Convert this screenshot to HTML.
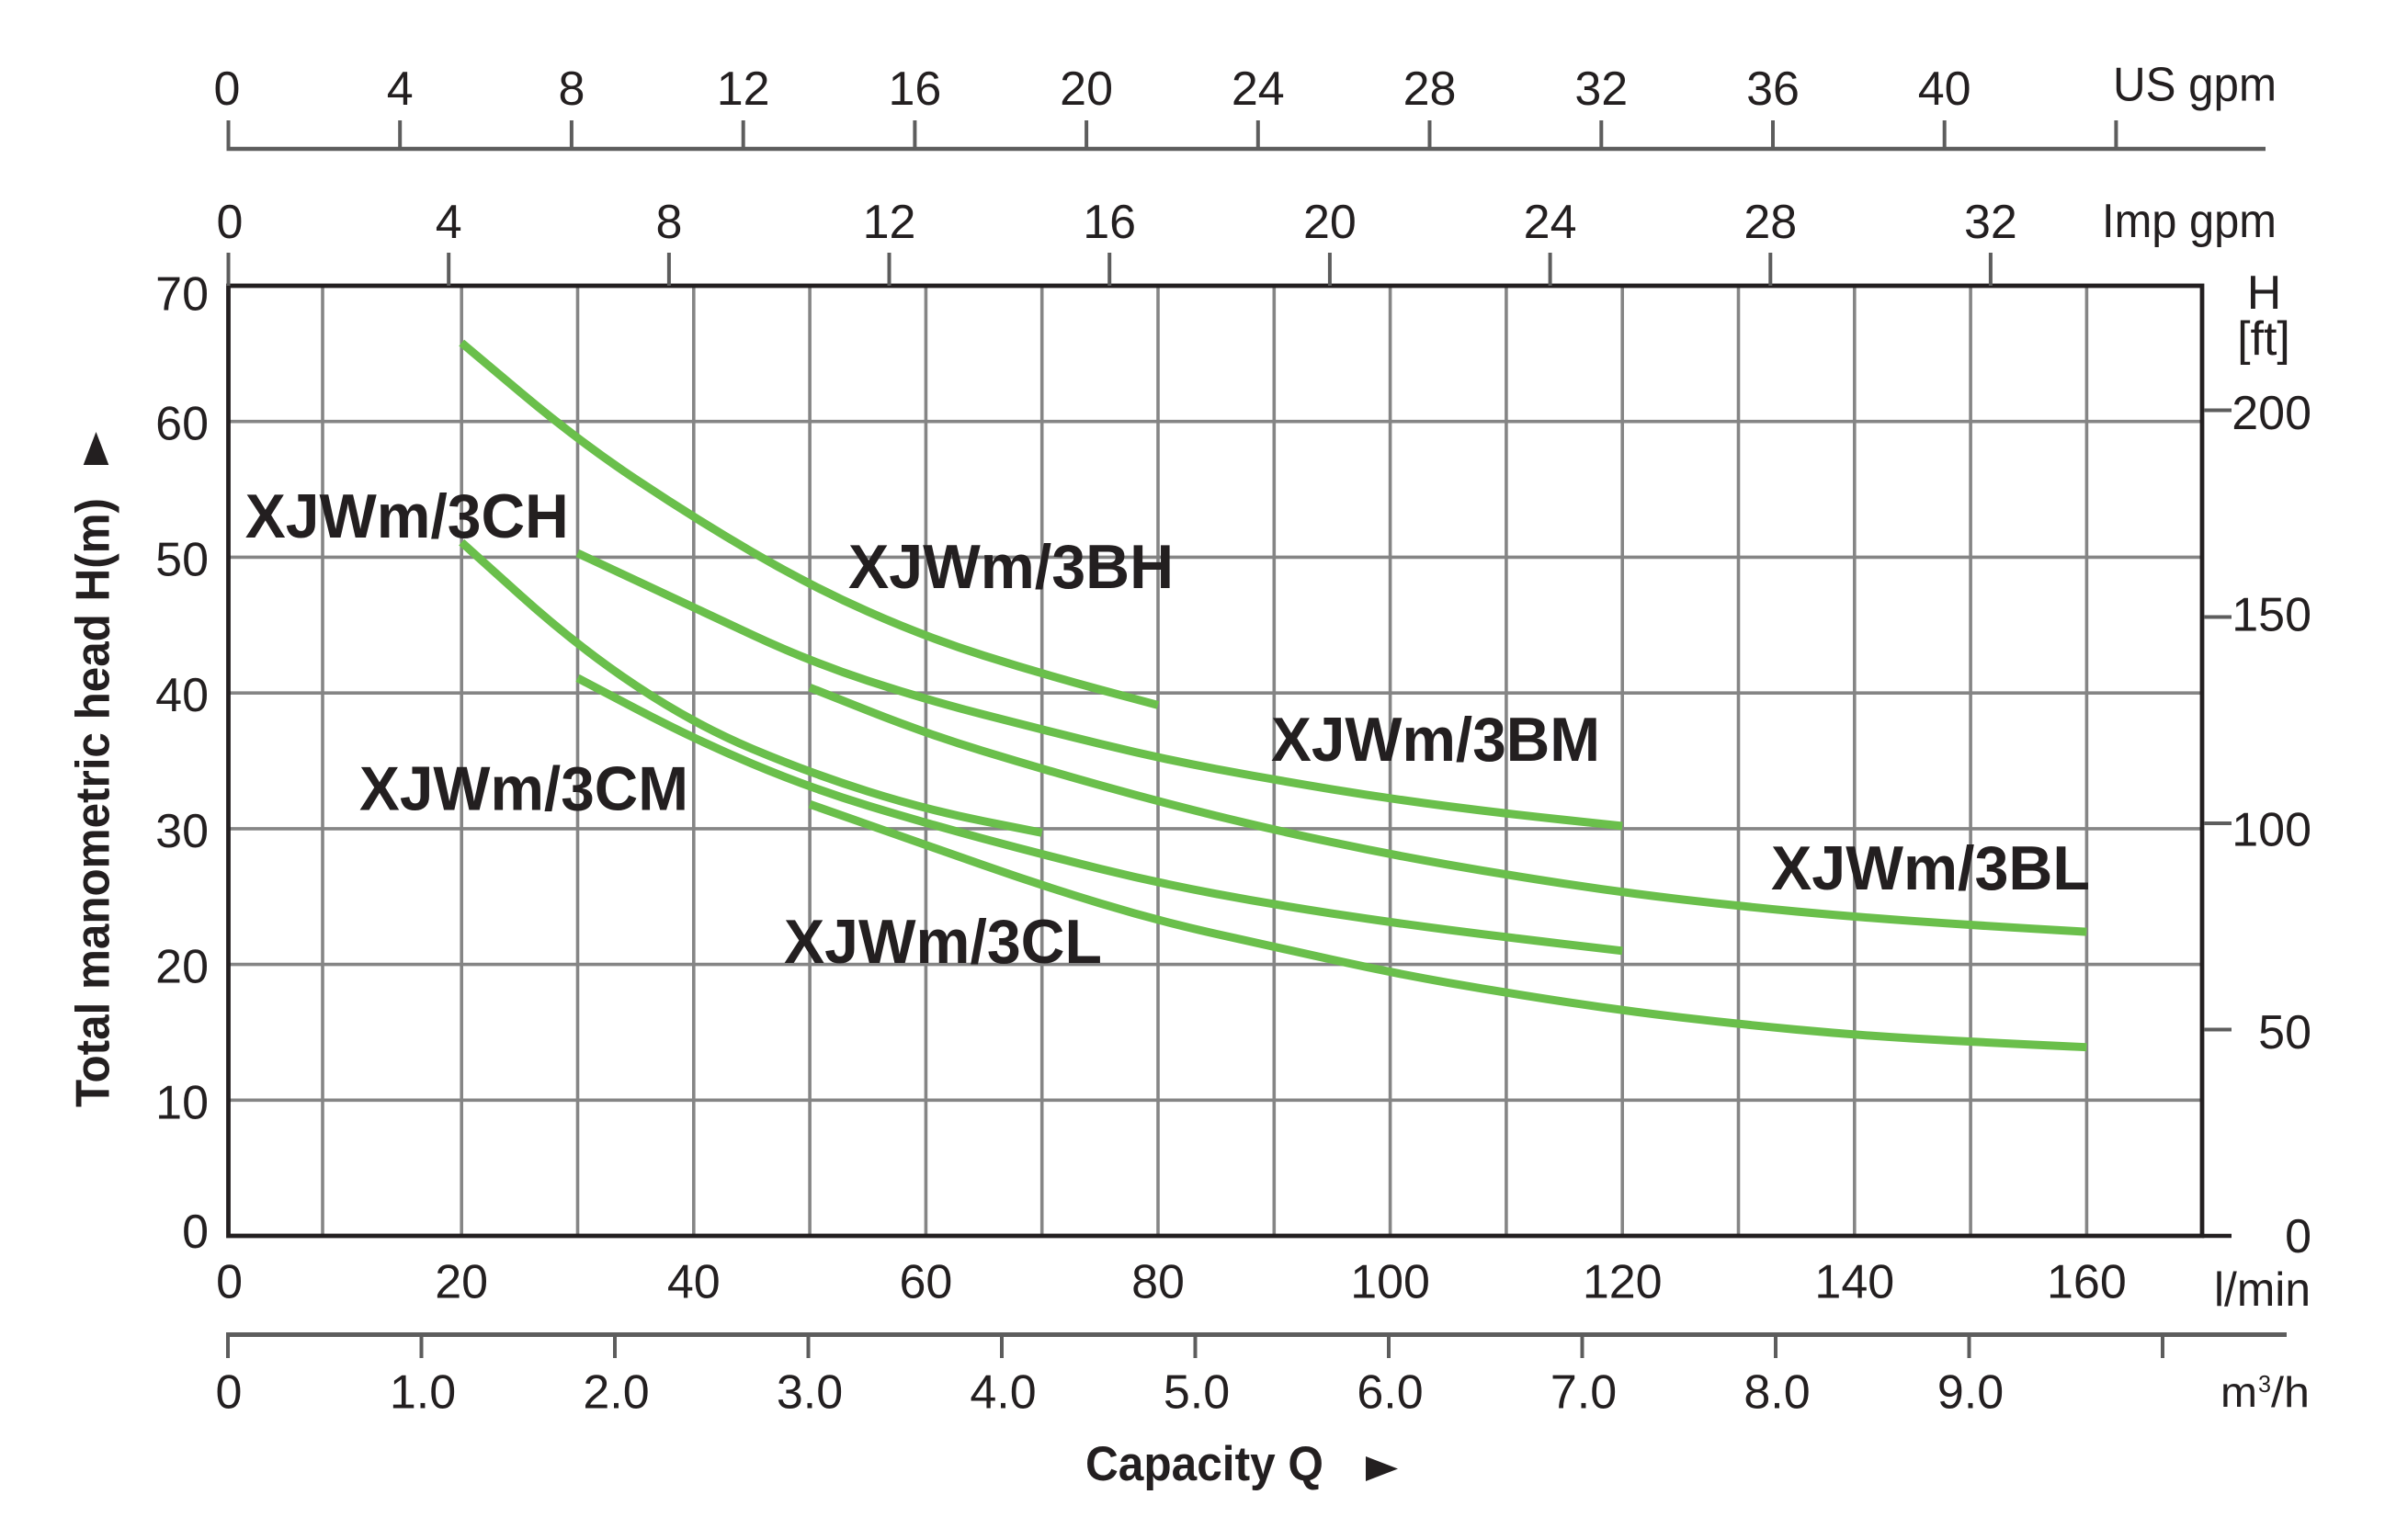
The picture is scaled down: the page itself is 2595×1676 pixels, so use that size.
<!DOCTYPE html>
<html>
<head>
<meta charset="utf-8">
<style>
  html,body{margin:0;padding:0;background:#fff;}
  svg{display:block;}
  text{font-family:"Liberation Sans", Arial, sans-serif; fill:#231f20;}
  .t{font-size:52px;}
  .b{font-weight:bold;}
</style>
</head>
<body>
<svg xmlns="http://www.w3.org/2000/svg" width="2595" height="1676" viewBox="0 0 2595 1676">
  <rect x="0" y="0" width="2595" height="1676" fill="#ffffff"/>

  <!-- ===== Grid ===== -->
  <g stroke="#858585" stroke-width="3.6">
    <line x1="351" y1="311" x2="351" y2="1345"/>
    <line x1="502.2" y1="311" x2="502.2" y2="1345"/>
    <line x1="628.5" y1="311" x2="628.5" y2="1345"/>
    <line x1="754.8" y1="311" x2="754.8" y2="1345"/>
    <line x1="881.1" y1="311" x2="881.1" y2="1345"/>
    <line x1="1007.4" y1="311" x2="1007.4" y2="1345"/>
    <line x1="1133.7" y1="311" x2="1133.7" y2="1345"/>
    <line x1="1260" y1="311" x2="1260" y2="1345"/>
    <line x1="1386.3" y1="311" x2="1386.3" y2="1345"/>
    <line x1="1512.6" y1="311" x2="1512.6" y2="1345"/>
    <line x1="1638.9" y1="311" x2="1638.9" y2="1345"/>
    <line x1="1765.2" y1="311" x2="1765.2" y2="1345"/>
    <line x1="1891.5" y1="311" x2="1891.5" y2="1345"/>
    <line x1="2017.8" y1="311" x2="2017.8" y2="1345"/>
    <line x1="2144.1" y1="311" x2="2144.1" y2="1345"/>
    <line x1="2270.4" y1="311" x2="2270.4" y2="1345"/>

    <line x1="248.5" y1="458.7" x2="2396" y2="458.7"/>
    <line x1="248.5" y1="606.4" x2="2396" y2="606.4"/>
    <line x1="248.5" y1="754.2" x2="2396" y2="754.2"/>
    <line x1="248.5" y1="901.9" x2="2396" y2="901.9"/>
    <line x1="248.5" y1="1049.6" x2="2396" y2="1049.6"/>
    <line x1="248.5" y1="1197.3" x2="2396" y2="1197.3"/>
  </g>

  <!-- ===== Curves (data coords: q l/min, h m) ===== -->
  <g transform="translate(249.6,1345) scale(12.63,-14.771)" fill="none" stroke="#6abf4b" stroke-width="9" stroke-linecap="butt" stroke-linejoin="round">
    <path vector-effect="non-scaling-stroke" d="M20 65.8 L25 62.2 Q30 58.6 35 55.75 Q40 52.9 45 50.4 Q50 47.9 55 46 Q60 44.1 65 42.75 Q70 41.4 75 40.25 L80 39.1"/>
    <path vector-effect="non-scaling-stroke" d="M30 50.3 L35 48.3 Q40 46.3 45 44.3 Q50 42.3 55 40.9 Q60 39.5 65 38.4 Q70 37.3 75 36.25 Q80 35.2 85 34.4 Q90 33.6 95 32.9 Q100 32.2 105 31.65 Q110 31.1 115 30.65 L120 30.2"/>
    <path vector-effect="non-scaling-stroke" d="M20 51.1 L25 47.25 Q30 43.4 35 40.55 Q40 37.7 45 35.9 Q50 34.1 55 32.75 Q60 31.4 65 30.55 L70 29.7"/>
    <path vector-effect="non-scaling-stroke" d="M50 40.4 L55 38.7 Q60 37 65 35.7 Q70 34.4 75 33.2 Q80 32 85 30.95 Q90 29.9 95 29 Q100 28.1 105 27.35 Q110 26.6 115 25.95 Q120 25.3 125 24.8 Q130 24.3 135 23.9 Q140 23.5 145 23.2 Q150 22.9 155 22.65 L160 22.4"/>
    <path vector-effect="non-scaling-stroke" d="M30 41.1 L35 38.85 Q40 36.6 45 34.8 Q50 33 55 31.7 Q60 30.4 65 29.25 Q70 28.1 75 27.05 Q80 26 85 25.2 Q90 24.4 95 23.75 Q100 23.1 105 22.55 Q110 22 115 21.5 L120 21"/>
    <path vector-effect="non-scaling-stroke" d="M50 31.8 L55 30.3 Q60 28.8 65 27.3 Q70 25.8 75 24.5 Q80 23.2 85 22.25 Q90 21.3 95 20.35 Q100 19.4 105 18.65 Q110 17.9 115 17.25 Q120 16.6 125 16.1 Q130 15.6 135 15.2 Q140 14.8 145 14.55 Q150 14.3 155 14.1 L160 13.9"/>
  </g>

  <!-- ===== Plot border ===== -->
  <rect x="248.5" y="311" width="2147.5" height="1034" fill="none" stroke="#231f20" stroke-width="4.8"/>
  <line x1="2396" y1="1345" x2="2428" y2="1345" stroke="#231f20" stroke-width="4.6"/>

  <!-- ===== Right ft ticks ===== -->
  <g stroke="#5d5d5d" stroke-width="4">
    <line x1="2398" y1="446.5" x2="2428" y2="446.5"/>
    <line x1="2398" y1="671.5" x2="2428" y2="671.5"/>
    <line x1="2398" y1="896" x2="2428" y2="896"/>
    <line x1="2398" y1="1120.5" x2="2428" y2="1120.5"/>
  </g>

  <!-- ===== US gpm axis ===== -->
  <g stroke="#5d5d5d" stroke-width="4.5">
    <line x1="246.5" y1="162" x2="2465" y2="162"/>
  </g>
  <g stroke="#5d5d5d" stroke-width="4">
    <line x1="248.5" y1="131" x2="248.5" y2="164"/>
    <line x1="435.2" y1="131" x2="435.2" y2="162"/>
    <line x1="621.9" y1="131" x2="621.9" y2="162"/>
    <line x1="808.7" y1="131" x2="808.7" y2="162"/>
    <line x1="995.4" y1="131" x2="995.4" y2="162"/>
    <line x1="1182.1" y1="131" x2="1182.1" y2="162"/>
    <line x1="1368.8" y1="131" x2="1368.8" y2="162"/>
    <line x1="1555.5" y1="131" x2="1555.5" y2="162"/>
    <line x1="1742.3" y1="131" x2="1742.3" y2="162"/>
    <line x1="1929" y1="131" x2="1929" y2="162"/>
    <line x1="2115.7" y1="131" x2="2115.7" y2="162"/>
    <line x1="2302.4" y1="131" x2="2302.4" y2="162"/>
  </g>
  <g class="t" text-anchor="middle">
    <text x="247" y="114">0</text>
    <text x="435.2" y="114">4</text>
    <text x="621.9" y="114">8</text>
    <text x="808.7" y="114">12</text>
    <text x="995.4" y="114">16</text>
    <text x="1182.1" y="114">20</text>
    <text x="1368.8" y="114">24</text>
    <text x="1555.5" y="114">28</text>
    <text x="1742.3" y="114">32</text>
    <text x="1929" y="114">36</text>
    <text x="2115.7" y="114">40</text>
  </g>
  <text class="t" x="2299" y="109.5" textLength="178" lengthAdjust="spacingAndGlyphs">US gpm</text>

  <!-- ===== Imp gpm axis ===== -->
  <g stroke="#5d5d5d" stroke-width="4">
    <line x1="248.5" y1="275" x2="248.5" y2="311"/>
    <line x1="488.2" y1="275" x2="488.2" y2="311"/>
    <line x1="727.9" y1="275" x2="727.9" y2="311"/>
    <line x1="967.5" y1="275" x2="967.5" y2="311"/>
    <line x1="1207.2" y1="275" x2="1207.2" y2="311"/>
    <line x1="1446.9" y1="275" x2="1446.9" y2="311"/>
    <line x1="1686.6" y1="275" x2="1686.6" y2="311"/>
    <line x1="1926.3" y1="275" x2="1926.3" y2="311"/>
    <line x1="2165.9" y1="275" x2="2165.9" y2="311"/>
  </g>
  <g class="t" text-anchor="middle">
    <text x="250" y="259">0</text>
    <text x="488.2" y="259">4</text>
    <text x="727.9" y="259">8</text>
    <text x="967.5" y="259">12</text>
    <text x="1207.2" y="259">16</text>
    <text x="1446.9" y="259">20</text>
    <text x="1686.6" y="259">24</text>
    <text x="1926.3" y="259">28</text>
    <text x="2165.9" y="259">32</text>
  </g>
  <text class="t" x="2287" y="258" textLength="190" lengthAdjust="spacingAndGlyphs">Imp gpm</text>

  <!-- ===== Left H(m) labels ===== -->
  <g class="t" text-anchor="end">
    <text x="227" y="337.5">70</text>
    <text x="227" y="478.7">60</text>
    <text x="227" y="626.4">50</text>
    <text x="227" y="774.2">40</text>
    <text x="227" y="921.9">30</text>
    <text x="227" y="1069.6">20</text>
    <text x="227" y="1217.3">10</text>
    <text x="227" y="1358">0</text>
  </g>

  <!-- ===== Right ft labels ===== -->
  <g class="t" text-anchor="end">
    <text x="2515" y="467">200</text>
    <text x="2515" y="686.6">150</text>
    <text x="2515" y="920.6">100</text>
    <text x="2515" y="1141.2">50</text>
    <text x="2515" y="1363">0</text>
  </g>
  <g class="t" text-anchor="middle">
    <text x="2463.5" y="336">H</text>
    <text x="2463" y="386">[ft]</text>
  </g>

  <!-- ===== l/min labels ===== -->
  <g class="t" text-anchor="middle">
    <text x="249.6" y="1412.7">0</text>
    <text x="502.2" y="1412.7">20</text>
    <text x="754.8" y="1412.7">40</text>
    <text x="1007.4" y="1412.7">60</text>
    <text x="1260" y="1412.7">80</text>
    <text x="1512.6" y="1412.7">100</text>
    <text x="1765.2" y="1412.7">120</text>
    <text x="2017.8" y="1412.7">140</text>
    <text x="2270.4" y="1412.7">160</text>
  </g>
  <text class="t" x="2409" y="1421" textLength="105" lengthAdjust="spacingAndGlyphs">l/min</text>

  <!-- ===== m3/h axis ===== -->
  <line x1="246" y1="1452.5" x2="2488" y2="1452.5" stroke="#5d5d5d" stroke-width="5"/>
  <g stroke="#5d5d5d" stroke-width="4">
    <line x1="248" y1="1450" x2="248" y2="1478"/>
    <line x1="458.5" y1="1452" x2="458.5" y2="1478"/>
    <line x1="669" y1="1452" x2="669" y2="1478"/>
    <line x1="879.5" y1="1452" x2="879.5" y2="1478"/>
    <line x1="1090" y1="1452" x2="1090" y2="1478"/>
    <line x1="1300.5" y1="1452" x2="1300.5" y2="1478"/>
    <line x1="1511" y1="1452" x2="1511" y2="1478"/>
    <line x1="1721.5" y1="1452" x2="1721.5" y2="1478"/>
    <line x1="1932" y1="1452" x2="1932" y2="1478"/>
    <line x1="2142.5" y1="1452" x2="2142.5" y2="1478"/>
    <line x1="2353" y1="1452" x2="2353" y2="1478"/>
  </g>
  <g class="t" text-anchor="middle">
    <text x="249" y="1532.7">0</text>
    <text x="460" y="1532.7">1.0</text>
    <text x="670.5" y="1532.7">2.0</text>
    <text x="881" y="1532.7">3.0</text>
    <text x="1091.5" y="1532.7">4.0</text>
    <text x="1302" y="1532.7">5.0</text>
    <text x="1512.5" y="1532.7">6.0</text>
    <text x="1723" y="1532.7">7.0</text>
    <text x="1933.5" y="1532.7">8.0</text>
    <text x="2144" y="1532.7">9.0</text>
  </g>
  <text x="2416" y="1531" font-size="46" textLength="40" lengthAdjust="spacingAndGlyphs">m</text>
  <text x="2457" y="1515" font-size="26" textLength="14" lengthAdjust="spacingAndGlyphs">3</text>
  <text x="2471" y="1531" font-size="46" textLength="42" lengthAdjust="spacingAndGlyphs">/h</text>

  <!-- ===== Axis titles ===== -->
  <text class="b" x="1181" y="1611" font-size="53" textLength="259" lengthAdjust="spacingAndGlyphs">Capacity Q</text>
  <polygon points="1486,1585 1521,1598.5 1486,1612" fill="#231f20"/>

  <text class="b" font-size="52" transform="translate(118.3,1205) rotate(-90)" x="0" y="0" textLength="663" lengthAdjust="spacingAndGlyphs">Total manometric head H(m)</text>
  <polygon points="90.7,506 104.5,470 118.3,506" fill="#231f20"/>

  <!-- ===== Curve labels ===== -->
  <g class="b" font-size="68">
    <text x="266.8" y="585" textLength="352" lengthAdjust="spacingAndGlyphs">XJWm/3CH</text>
    <text x="923" y="640" textLength="354" lengthAdjust="spacingAndGlyphs">XJWm/3BH</text>
    <text x="391" y="881.7" textLength="358" lengthAdjust="spacingAndGlyphs">XJWm/3CM</text>
    <text x="853" y="1048" textLength="346" lengthAdjust="spacingAndGlyphs">XJWm/3CL</text>
    <text x="1383" y="828" textLength="358" lengthAdjust="spacingAndGlyphs">XJWm/3BM</text>
    <text x="1927" y="968" textLength="347" lengthAdjust="spacingAndGlyphs">XJWm/3BL</text>
  </g>
</svg>
</body>
</html>
